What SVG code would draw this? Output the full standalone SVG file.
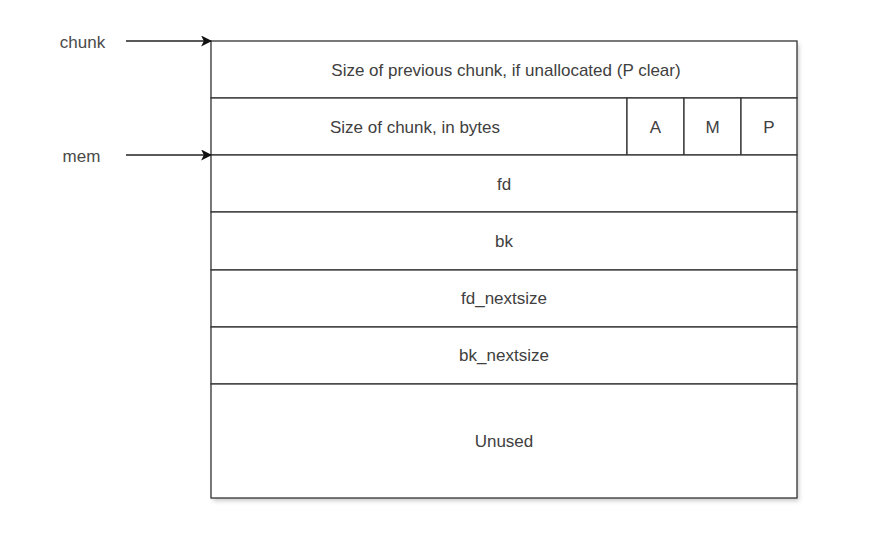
<svg xmlns="http://www.w3.org/2000/svg" width="875" height="557" viewBox="0 0 875 557">
<style>
.cell{fill:#fff;stroke:#333;stroke-width:1.3}
.t{font-family:"Liberation Sans",Arial,sans-serif;font-size:17px;fill:#404040;text-anchor:middle;dominant-baseline:central}
.lbl{font-family:"Liberation Sans",Arial,sans-serif;font-size:17px;fill:#4a4a4a;text-anchor:middle;dominant-baseline:central}
.conn{stroke:#222;stroke-width:1.6;fill:none;marker-end:url(#ah)}
</style>
<defs>
<marker id="ah" viewBox="0 0 10 10" refX="9" refY="5" markerWidth="11" markerHeight="11" markerUnits="userSpaceOnUse" orient="auto"><path d="M0,0 L10,5 L0,10 L2.5,5 z" fill="#111"/></marker>
<filter id="sh" x="-5%" y="-5%" width="110%" height="110%"><feDropShadow dx="2" dy="3" stdDeviation="2" flood-color="#000" flood-opacity="0.2"/></filter>
</defs>
<rect width="875" height="557" fill="#fff"/>
<rect x="211" y="41" width="586" height="457" fill="#fff" filter="url(#sh)"/>
<g id="prev_size"><rect class="cell" x="211" y="41" width="586" height="57"/><text class="t" x="506" y="70">Size of previous chunk, if unallocated (P clear)</text></g>
<g id="size"><rect class="cell" x="211" y="98" width="416" height="57"/><text class="t" x="415" y="127">Size of chunk, in bytes</text></g>
<g id="flagA"><rect class="cell" x="627" y="98" width="57" height="57"/><text class="t" x="655.5" y="127">A</text></g>
<g id="flagM"><rect class="cell" x="684" y="98" width="57" height="57"/><text class="t" x="712.5" y="127">M</text></g>
<g id="flagP"><rect class="cell" x="741" y="98" width="56" height="57"/><text class="t" x="769" y="127">P</text></g>
<g id="fd"><rect class="cell" x="211" y="155" width="586" height="57"/><text class="t" x="504" y="184">fd</text></g>
<g id="bk"><rect class="cell" x="211" y="212" width="586" height="58"/><text class="t" x="504" y="241">bk</text></g>
<g id="fd_nextsize"><rect class="cell" x="211" y="270" width="586" height="57"/><text class="t" x="504" y="298">fd_nextsize</text></g>
<g id="bk_nextsize"><rect class="cell" x="211" y="327" width="586" height="57"/><text class="t" x="504" y="355">bk_nextsize</text></g>
<g id="unused"><rect class="cell" x="211" y="384" width="586" height="114"/><text class="t" x="504" y="441">Unused</text></g>
<g id="chunk_label"><text class="lbl" x="82.5" y="42">chunk</text></g>
<g id="mem_label"><text class="lbl" x="81.5" y="156">mem</text></g>
<g id="connectors">
<line class="conn" x1="126" y1="41" x2="211" y2="41"/>
<line class="conn" x1="126" y1="155" x2="211" y2="155"/>
</g>
</svg>
